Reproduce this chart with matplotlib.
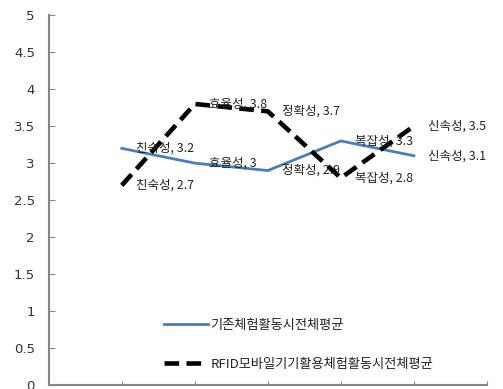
import matplotlib
matplotlib.use("Agg")
import matplotlib.pyplot as plt

plt.rcParams['font.family'] = ['Noto Sans CJK KR', 'DejaVu Sans']

categories = ["친숙성", "효율성", "정확성", "복잡성", "신속성"]
existing = [3.2, 3.0, 2.9, 3.3, 3.1]
rfid = [2.7, 3.8, 3.7, 2.8, 3.5]
series_names = ["기존체험활동시전체평균", "RFID모바일기기활용체험활동시전체평균"]
yticks = [0, 0.5, 1, 1.5, 2, 2.5, 3, 3.5, 4, 4.5, 5]

fig = plt.figure(figsize=(5.03, 3.89), dpi=100)
ax = fig.add_axes([0.097, 0.010, 0.871, 0.951])

x = list(range(1, len(categories) + 1))
ax.plot(x, existing, color="#4A7EBB", lw=2.0, label=series_names[0], zorder=2)
ax.plot(x, rfid, color="black", lw=3.3, ls=(0, (3.2, 1.6)), label=series_names[1], zorder=3)

def fmt(v):
    return ("%g" % v)

for xi, c, v in zip(x, categories, existing):
    ax.annotate(f"{c}, {fmt(v)}", (xi, v), xytext=(10, 0), textcoords="offset points",
                ha="left", va="center", fontsize=9, color="#222222", zorder=4)
for xi, c, v in zip(x, categories, rfid):
    ax.annotate(f"{c}, {fmt(v)}", (xi, v), xytext=(10, 0), textcoords="offset points",
                ha="left", va="center", fontsize=9, color="#222222", zorder=4)

ax.set_xlim(0, 6)
ax.set_ylim(0, 5)
ax.set_yticks(yticks)
ax.set_yticklabels([fmt(t) for t in yticks], fontsize=9.5, color="#333333",
                   family=['DejaVu Sans'])
ax.set_xticks(range(0, 7))
ax.set_xticklabels([])
ax.tick_params(axis="y", direction="in", length=4, color="#868686", pad=10)
ax.tick_params(axis="x", direction="in", length=3, color="#868686")
for s in ["top", "right"]:
    ax.spines[s].set_visible(False)
for s in ["left", "bottom"]:
    ax.spines[s].set_color("#868686")
    ax.spines[s].set_linewidth(1.5)

leg = ax.legend(loc="lower left", bbox_to_anchor=(0.235, 0.0065), frameon=False,
                fontsize=9.5, handlelength=3.4, handletextpad=0.15, labelspacing=1.98)
for t in leg.get_texts():
    t.set_color("#222222")

fig.savefig("out.png", dpi=100)
